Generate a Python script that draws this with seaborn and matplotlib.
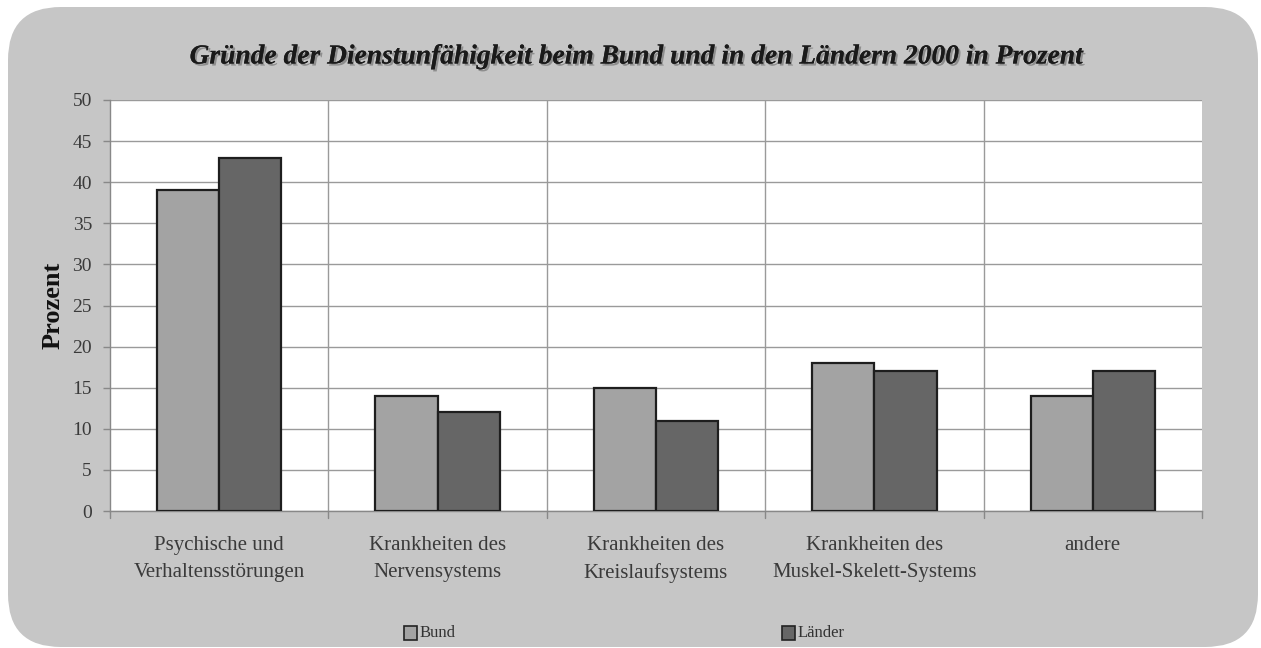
import matplotlib
matplotlib.use("Agg")
import matplotlib.pyplot as plt
import matplotlib.patches as mpatches
import matplotlib.patheffects as pe
import seaborn as sns
import pandas as pd

categories = [
    "Psychische und\nVerhaltensstörungen",
    "Krankheiten des\nNervensystems",
    "Krankheiten des\nKreislaufsystems",
    "Krankheiten des\nMuskel-Skelett-Systems",
    "andere",
]
bund = [39, 14, 15, 18, 14]
laender = [43, 12, 11, 17, 17]
series = ["Bund", "Länder"]
yticks = [0, 5, 10, 15, 20, 25, 30, 35, 40, 45, 50]

df = pd.DataFrame({
    "Kategorie": categories * 2,
    "Wert": bund + laender,
    "Gruppe": [series[0]] * len(categories) + [series[1]] * len(categories),
})

sns.set_theme(style="white")
plt.rcParams["font.family"] = ["Liberation Serif", "DejaVu Serif"]

W, H = 1261, 648
fig = plt.figure(figsize=(W / 100, H / 100), dpi=100)
fig.patch.set_facecolor("white")

# rounded grey frame behind the chart
bg = mpatches.FancyBboxPatch(
    (8 / W, 1 / H), 1250 / W, 640 / H,
    boxstyle="round,pad=0,rounding_size=0.042",
    transform=fig.transFigure, facecolor="#c6c6c6", edgecolor="none",
    mutation_aspect=W / H, zorder=-10,
)
fig.patches.append(bg)

ax = fig.add_axes([110 / W, (H - 511) / H, 1092 / W, 411 / H])
ax.set_zorder(1)
ax.set_facecolor("white")

palette = {"Bund": "#a3a3a3", "Länder": "#666666"}
sns.barplot(
    data=df, x="Kategorie", y="Wert", hue="Gruppe", palette=palette,
    width=0.57, edgecolor="#1e1e1e", linewidth=1.6, saturation=1,
    legend=False, ax=ax, zorder=3,
)

ax.set_ylim(0, 50)
ax.set_xlim(-0.5, len(categories) - 0.5)
ax.set_yticks(yticks)
ax.set_yticklabels([str(t) for t in yticks], fontsize=14, color="#3a3a3a")
ax.yaxis.grid(True, color="#9a9a9a", linewidth=1.0, zorder=0)
ax.set_axisbelow(True)
for b in range(1, len(categories)):
    ax.axvline(b - 0.5, color="#9a9a9a", linewidth=1.0, zorder=0)

ax.set_xticks(range(len(categories)))
ax.set_xticklabels(categories, fontsize=15, color="#3a3a3a", linespacing=1.55)
ax.tick_params(axis="x", length=0, pad=18)
ax.tick_params(axis="y", length=5, width=1, color="#888888", left=True, pad=8)

# small ticks on the category boundaries below the axis
for b in range(0, len(categories) + 1):
    ax.plot([b - 0.5, b - 0.5], [0, -0.8], color="#888888", linewidth=1,
            clip_on=False, zorder=2)

for s in ["top", "right"]:
    ax.spines[s].set_visible(False)
ax.spines["left"].set_color("#888888")
ax.spines["bottom"].set_color("#888888")
ax.spines["left"].set_linewidth(1)
ax.spines["bottom"].set_linewidth(1)

ax.set_xlabel("")
ax.set_ylabel("Prozent", fontsize=19, fontweight="bold", color="#111111")
ax.yaxis.set_label_coords(-(110 - 65) / 1092, 0.5)

fig.text(
    636 / W, 1 - 57 / H,
    "Gründe der Dienstunfähigkeit beim Bund und in den Ländern 2000 in Prozent",
    ha="center", va="center", fontsize=19.8, fontweight="bold", fontstyle="italic",
    color="#1a1a1a",
    path_effects=[pe.withSimplePatchShadow(offset=(1.5, -1.5), shadow_rgbFace="#777777", alpha=0.7), pe.Normal()],
)

# legend along the bottom edge
leg_y = 1 - 633 / H
for x0, name in [(404, series[0]), (782, series[1])]:
    fig.patches.append(mpatches.Rectangle(
        (x0 / W, leg_y - 7 / H), 13 / W, 14 / H, transform=fig.transFigure,
        facecolor=palette[name], edgecolor="#222222", linewidth=1.2, zorder=5,
    ))
    fig.text((x0 + 16) / W, leg_y, name, ha="left", va="center",
             fontsize=12, color="#333333")

fig.savefig("out.png", dpi=100, facecolor="white")
